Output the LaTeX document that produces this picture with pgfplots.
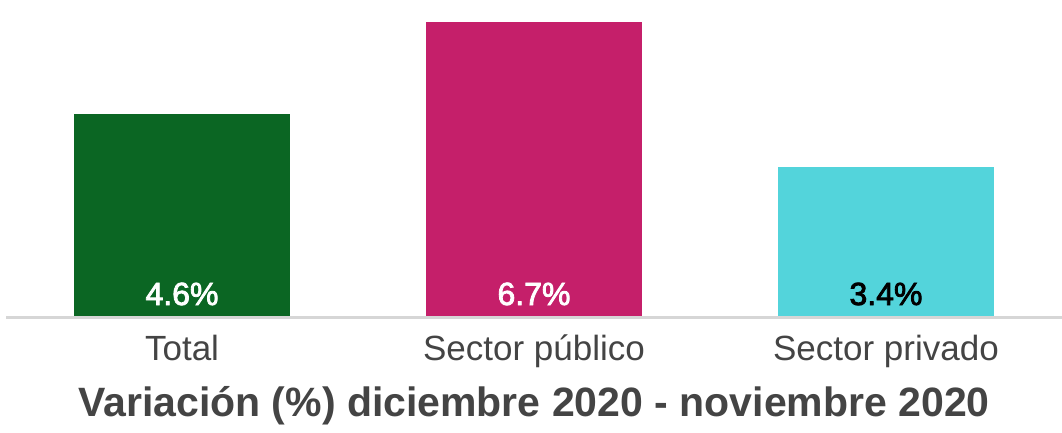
\documentclass[border=0pt]{standalone}
\usepackage{fontspec}
\setmainfont{Liberation Sans}
\newfontfamily\medfont[FakeBold=2.5]{Liberation Sans}
\usepackage{pgfplots}
\pgfplotsset{compat=1.18}
\definecolor{cgreen}{HTML}{0B6623}
\definecolor{cmag}{HTML}{C51F6A}
\definecolor{ccyan}{HTML}{53D4DB}
\definecolor{ctext}{HTML}{444444}
\definecolor{caxis}{HTML}{D6D6D6}
\begin{document}
\begin{tikzpicture}
\begin{axis}[
  at={(0,0)}, anchor=south west,
  scale only axis,
  width=1056pt, height=316pt,
  xmin=-0.5, xmax=2.5, ymin=0, ymax=7.2,
  axis lines=none,
  ybar, bar width=216pt, bar shift=0pt,
  xtick=\empty, ytick=\empty,
  clip=false,
]
\addplot[draw=none, fill=cgreen] coordinates {(0,4.6)};
\addplot[draw=none, fill=cmag] coordinates {(1,6.7)};
\addplot[draw=none, fill=ccyan] coordinates {(2,3.4)};
\draw[caxis, line width=3pt] ([yshift=-1.5pt]axis cs:-0.5,0) -- ([yshift=-1.5pt]axis cs:2.5,0);
\node[white, font=\fontsize{32}{36}\medfont, anchor=base] at ([yshift=11pt]axis cs:0,0) {4.6\%};
\node[white, font=\fontsize{32}{36}\medfont, anchor=base] at ([yshift=11pt]axis cs:1,0) {6.7\%};
\node[black, font=\fontsize{32}{36}\medfont, anchor=base] at ([yshift=11pt]axis cs:2,0) {3.4\%};
\node[ctext, font=\fontsize{35}{38}\selectfont, anchor=base] at ([yshift=-44pt]axis cs:0,0) {Total};
\node[ctext, font=\fontsize{35}{38}\selectfont, anchor=base] at ([yshift=-44pt]axis cs:1,0) {Sector público};
\node[ctext, font=\fontsize{35}{38}\selectfont, anchor=base] at ([yshift=-44pt]axis cs:2,0) {Sector privado};
\node[ctext, font=\fontsize{41}{44}\selectfont\bfseries, anchor=base] at ([yshift=-100pt]axis cs:1,0) {Variación (\%) diciembre 2020 - noviembre 2020};
\end{axis}
\pgfresetboundingbox
\path[use as bounding box] (-6pt,-117pt) rectangle (1056pt,316pt);
\end{tikzpicture}
\end{document}
